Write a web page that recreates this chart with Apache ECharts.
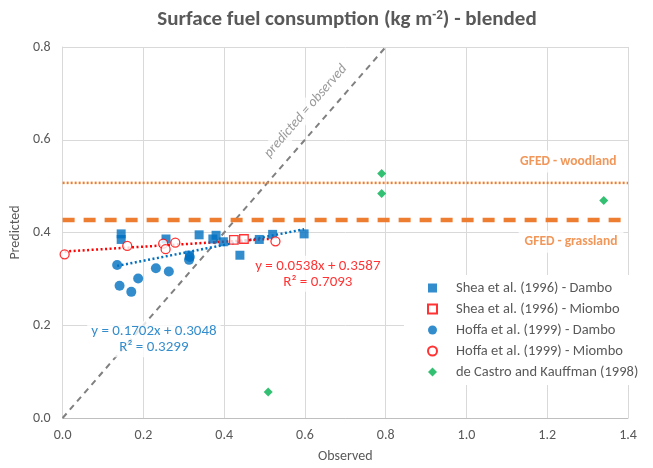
<!DOCTYPE html>
<html>
<head>
<meta charset="utf-8">
<script src="https://cdn.jsdelivr.net/npm/echarts@6/dist/echarts.min.js"></script>
<style>
  html, body { margin: 0; padding: 0; background: #fff; }
  #chart { width: 653px; height: 468px; }
</style>
</head>
<body>
<div id="chart"></div>
<script>
// values
const xTicks = [0, 1.4, 0.2]   // min, max, step
const yTicks = [0, 0.8, 0.2]

const sheaDambo = [[0.145, 0.397], [0.145, 0.385], [0.256, 0.386], [0.314, 0.351], [0.338, 0.395],
  [0.372, 0.386], [0.38, 0.394], [0.398, 0.38], [0.439, 0.351], [0.487, 0.385], [0.52, 0.396], [0.598, 0.397]]
const sheaMiombo = [[0.424, 0.384], [0.449, 0.386]]
const hoffaDambo = [[0.135, 0.330], [0.141, 0.285], [0.170, 0.272], [0.187, 0.301], [0.231, 0.323],
  [0.263, 0.316], [0.313, 0.341], [0.315, 0.347]]
const hoffaMiombo = [[0.005, 0.353], [0.160, 0.371], [0.249, 0.376], [0.255, 0.364], [0.279, 0.378], [0.527, 0.381]]
const deCastro = [[0.509, 0.056], [0.790, 0.527], [0.790, 0.484], [1.340, 0.469]]

// trend lines (Excel linear fits) and reference lines
const blueTrend = [[0.135, 0.328], [0.598, 0.407]]
const redTrend = [[0.005, 0.359], [0.527, 0.387]]
const oneToOne = [[0, 0], [0.8, 0.8]]
const gfedWoodland = [[0, 0.507], [1.4, 0.507]]
const gfedGrassland = [[0, 0.427], [1.4, 0.427]]

const legendNames = ['Shea et al. (1996) - Dambo', 'Shea et al. (1996) - Miombo',
  'Hoffa et al. (1999) - Dambo', 'Hoffa et al. (1999) - Miombo', 'de Castro and Kauffman (1998)']

const FONT = 'Carlito, Lato, sans-serif'
const GREY = '#595959'
const BLUE = '#0070C0'
const RED = '#FF0000'
const ORANGE = '#ED7D31'
const GREEN = '#00B050'

// text annotation placed at a data point, with a white box behind
function note(name, at, text, style) {
  return {
    name, type: 'scatter', data: [at], symbolSize: 0, z: 10, silent: true,
    label: Object.assign({
      show: true, position: 'inside', formatter: text, fontFamily: FONT, fontSize: 15,
      backgroundColor: '#fff', padding: [2, 4], lineHeight: 16
    }, style)
  }
}

const chart = echarts.init(document.getElementById('chart'))

chart.setOption({
  animation: false,
  textStyle: { fontFamily: FONT },
  title: {
    text: 'Surface fuel consumption (kg m{sup|-2}) - blended',
    left: 342, textAlign: 'center', top: 4,
    textStyle: {
      fontFamily: FONT, fontSize: 21, fontWeight: 'bold', color: GREY,
      rich: { sup: { fontFamily: FONT, fontSize: 13, fontWeight: 'bold', color: GREY, verticalAlign: 'top', padding: [0, 0, 9, 0] } }
    }
  },
  grid: { left: 61, right: 25, top: 47, bottom: 49 },
  legend: {
    data: legendNames, orient: 'vertical', left: 404, top: 275,
    backgroundColor: '#fff', padding: [5, 8, 5, 23],
    itemWidth: 9, itemHeight: 9, itemGap: 5,
    textStyle: { color: GREY, fontSize: 14.5, fontFamily: FONT, lineHeight: 16, padding: [0, 0, 0, 14] }
  },
  xAxis: {
    type: 'value', min: xTicks[0], max: xTicks[1], interval: xTicks[2],
    name: 'Observed', nameLocation: 'middle', nameGap: 31,
    nameTextStyle: { color: GREY, fontSize: 14, fontFamily: FONT },
    axisLine: { show: true, lineStyle: { color: '#bfbfbf' } },
    axisTick: { show: false },
    axisLabel: { color: GREY, fontSize: 14, margin: 10, formatter: v => v.toFixed(1) },
    splitLine: { show: true, lineStyle: { color: '#d9d9d9' } }
  },
  yAxis: {
    type: 'value', min: yTicks[0], max: yTicks[1], interval: yTicks[2],
    name: 'Predicted', nameLocation: 'middle', nameGap: 28,
    nameTextStyle: { color: GREY, fontSize: 14, fontFamily: FONT },
    axisLine: { show: true, lineStyle: { color: '#d9d9d9' } },
    axisTick: { show: false },
    axisLabel: { color: GREY, fontSize: 14, margin: 12, formatter: v => v.toFixed(1) },
    splitLine: { show: true, lineStyle: { color: '#d9d9d9' } }
  },
  series: [
    { type: 'line', data: oneToOne, symbol: 'none', z: 3, silent: true,
      lineStyle: { color: '#808080', width: 2, type: [6, 5] } },
    { type: 'line', data: gfedWoodland, symbol: 'none', z: 3, silent: true,
      lineStyle: { color: ORANGE, width: 2.5, type: [2, 2] } },
    { type: 'line', data: gfedGrassland, symbol: 'none', z: 3, silent: true,
      lineStyle: { color: ORANGE, width: 4.5, type: [12, 9] } },
    { type: 'line', data: blueTrend, symbol: 'none', z: 4, silent: true,
      lineStyle: { color: BLUE, width: 2.5, type: [2, 2.5] } },
    { type: 'line', data: redTrend, symbol: 'none', z: 4, silent: true,
      lineStyle: { color: RED, width: 2.5, type: [2, 2.5] } },

    { name: legendNames[0], type: 'scatter', data: sheaDambo, symbol: 'rect', symbolSize: 9, z: 5,
      itemStyle: { color: BLUE } },
    { name: legendNames[1], type: 'scatter', data: sheaMiombo, symbol: 'rect', symbolSize: 8.5, z: 5,
      itemStyle: { color: '#fff', borderColor: RED, borderWidth: 1.3 } },
    { name: legendNames[2], type: 'scatter', data: hoffaDambo, symbol: 'circle', symbolSize: 10, z: 5,
      itemStyle: { color: BLUE } },
    { name: legendNames[3], type: 'scatter', data: hoffaMiombo, symbol: 'circle', symbolSize: 9, z: 5,
      itemStyle: { color: '#fff', borderColor: RED, borderWidth: 1.3 } },
    { name: legendNames[4], type: 'scatter', data: deCastro, symbol: 'diamond', symbolSize: 9, z: 5,
      itemStyle: { color: GREEN } },

    note('eqBlue', [0.226, 0.170], 'y = 0.1702x + 0.3048\nR² = 0.3299', { color: BLUE }),
    note('eqRed', [0.632, 0.311], 'y = 0.0538x + 0.3587\nR² = 0.7093', { color: RED }),
    note('oneToOneLabel', [0.602, 0.662], 'predicted = observed', { color: '#808080', fontStyle: 'italic', rotate: 49, padding: [1, 6], fontSize: 14 }),
    note('woodland', [1.252, 0.553], 'GFED - woodland', { color: ORANGE, fontWeight: 'bold', padding: [3, 6], fontSize: 13.5 }),
    note('grassland', [1.259, 0.380], 'GFED - grassland', { color: ORANGE, fontWeight: 'bold', padding: [3, 6], fontSize: 13.5 })
  ]
})
</script>
</body>
</html>
